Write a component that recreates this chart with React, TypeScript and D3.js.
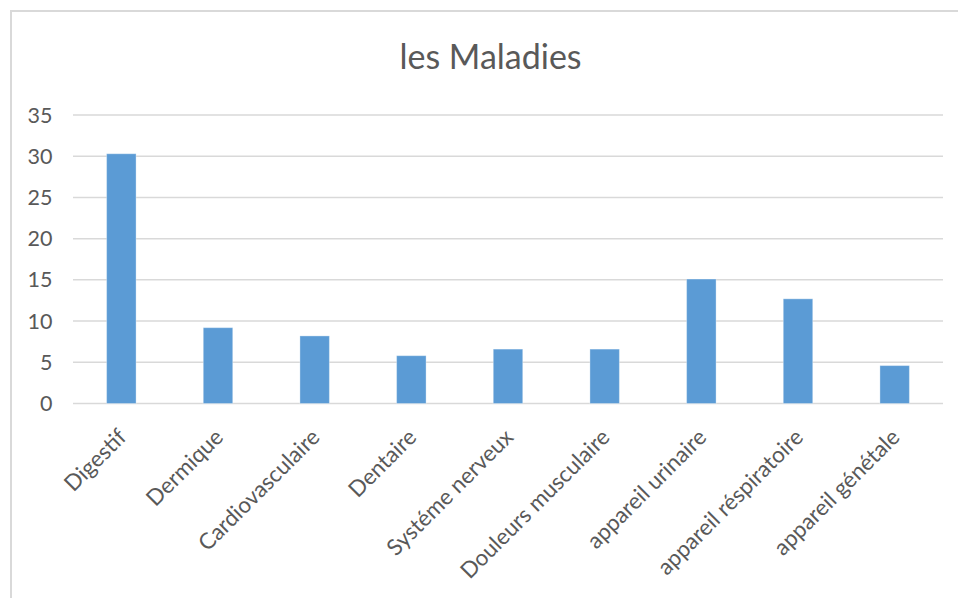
import React from "react";
import * as d3 from "d3";

const categories = [
  "Digestif",
  "Dermique",
  "Cardiovasculaire",
  "Dentaire",
  "Systéme nerveux",
  "Douleurs musculaire",
  "appareil urinaire",
  "appareil réspiratoire",
  "appareil génétale",
];
const values = [30.3, 9.2, 8.2, 5.8, 6.6, 6.6, 15.1, 12.7, 4.6];
const yTicks = [0, 5, 10, 15, 20, 25, 30, 35];
const title = "les Maladies";

const W = 958;
const H = 598;
const FONT = "Lato, 'Noto Sans', sans-serif";
const TEXT = "#595959";
const GRID = "#D9D9D9";
const BAR = "#5B9BD5";

export default function App() {
  const x = d3
    .scaleBand<string>()
    .domain(categories)
    .range([73, 943])
    .paddingInner(0.695)
    .paddingOuter(0.3475);
  const y = d3.scaleLinear().domain([0, 35]).range([403.5, 115]);

  return (
    <svg
      width={W}
      height={H}
      style={{ position: "absolute", left: 0, top: 0, background: "#fff" }}
      fontFamily={FONT}
    >
      <rect x={0} y={0} width={W} height={H} fill="#fff" />
      <rect
        x={11}
        y={11}
        width={W + 20}
        height={H + 20}
        fill="#fff"
        stroke={GRID}
        strokeWidth={2}
      />
      <text
        x={490.5}
        y={69.3}
        textAnchor="middle"
        fontSize={34}
        fill={TEXT}
      >
        {title}
      </text>
      {yTicks.map((t) => (
        <g key={t}>
          <line
            x1={73}
            x2={943}
            y1={y(t)}
            y2={y(t)}
            stroke={GRID}
            strokeWidth={1.5}
          />
          <text
            x={52.5}
            y={y(t)}
            dy="0.35em"
            textAnchor="end"
            fontSize={21.5}
            fill={TEXT}
          >
            {t}
          </text>
        </g>
      ))}
      {categories.map((c, i) => (
        <rect
          key={c}
          x={x(c)!}
          y={y(values[i])}
          width={x.bandwidth()}
          height={y(0) - y(values[i])}
          fill={BAR}
          stroke="rgba(255,255,255,0.35)"
          strokeWidth={1}
        />
      ))}
      {categories.map((c) => {
        const cx = x(c)! + x.bandwidth() / 2;
        return (
          <text
            key={c}
            transform={`translate(${cx + 1},433) rotate(-45)`}
            dy="0.35em"
            textAnchor="end"
            fontSize={22.4}
            fill={TEXT}
          >
            {c}
          </text>
        );
      })}
    </svg>
  );
}
